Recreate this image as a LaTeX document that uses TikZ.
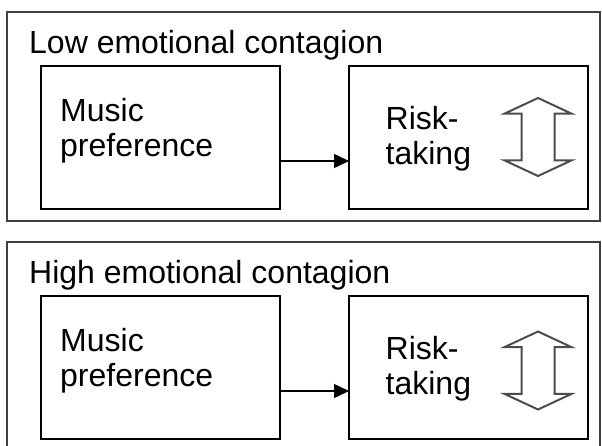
\documentclass[tikz,border=0pt]{standalone}
\usepackage{fontspec}
\setmainfont{Liberation Sans}
\usetikzlibrary{shapes.arrows, arrows.meta, positioning}

\begin{document}
\begin{tikzpicture}[
    x=1pt, y=-1pt,
    font=\fontsize{32pt}{35pt}\selectfont,
    panel/.style={rectangle, draw=black!75, line width=2pt, minimum width=593pt, minimum height=209pt, inner sep=0pt, outer sep=0pt},
    box/.style={rectangle, draw=black, line width=2pt, minimum width=239pt, minimum height=143pt, inner sep=0pt, outer sep=0pt},
    heading/.style={inner sep=0pt},
    txt/.style={align=left, inner sep=0pt},
    updown/.style={double arrow, draw=black!70, line width=2pt, rotate=90, minimum height=78pt, minimum width=65pt, inner sep=15.5pt, double arrow tip angle=130, double arrow head extend=17pt},
    arrow/.style={-{Triangle[length=15pt, width=14pt]}, line width=1.5pt},
]
\useasboundingbox (0,0) rectangle (602,445);

% Panel 1: low contagion
\node[panel] (lowpanel) at (303.5,116.5) {};
\node[heading, below right=18pt and 22pt of lowpanel.north west] (lowtitle) {Low emotional contagion};
\node[box, below right=54pt and 34pt of lowpanel.north west] (lowmusic) {};
\node[box, right=69pt of lowmusic] (lowrisk) {};
\node[txt, below right=32pt and 19pt of lowmusic.north west] (lowmusictxt) {Music\\preference};
\node[txt, below right=40pt and 36.5pt of lowrisk.north west] (lowrisktxt) {Risk-\\taking};
\node[updown] (lowupdown) at ([xshift=69.5pt, yshift=0.5pt]lowrisk.center) {};

% Panel 2: high contagion
\node[panel, below=21pt of lowpanel] (highpanel) {};
\node[heading, below right=18pt and 22pt of highpanel.north west] (hightitle) {High emotional contagion};
\node[box, below right=54pt and 34pt of highpanel.north west] (highmusic) {};
\node[box, right=69pt of highmusic] (highrisk) {};
\node[txt, below right=32pt and 19pt of highmusic.north west] (highmusictxt) {Music\\preference};
\node[txt, below right=40pt and 36.5pt of highrisk.north west] (highrisktxt) {Risk-\\taking};
\node[updown] (highupdown) at ([xshift=69.5pt, yshift=-3pt]highrisk.center) {};

% Arrows
\draw[arrow] ([yshift=-23.5pt]lowmusic.east) -- ([yshift=-23.5pt]lowrisk.west);
\draw[arrow] ([yshift=-23.5pt]highmusic.east) -- ([yshift=-23.5pt]highrisk.west);

\end{tikzpicture}
\end{document}
